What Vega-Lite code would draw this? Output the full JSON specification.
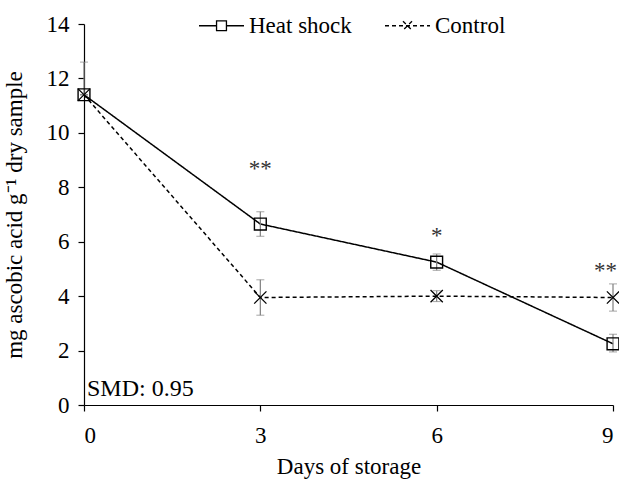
{
  "$schema": "https://vega.github.io/schema/vega-lite/v6.json",
  "width": 529,
  "height": 381,
  "autosize": {"type": "none"},
  "padding": {"left": 84, "top": 24, "right": 6, "bottom": 77},
  "background": "white",
  "config": {
    "view": {"stroke": null},
    "font": "Liberation Serif",
    "mark": {"color": "black"},
    "line": {"color": "black"},
    "point": {"color": "black"},
    "axis": {
      "domainColor": "black",
      "tickColor": "black",
      "labelColor": "black",
      "titleColor": "black",
      "labelFont": "Liberation Serif",
      "titleFont": "Liberation Serif",
      "labelFontSize": 23,
      "titleFontSize": 23,
      "titleFontWeight": "normal",
      "grid": false,
      "tickSize": 6,
      "domainWidth": 1.2,
      "tickWidth": 1.2
    },
    "legend": {
      "labelFont": "Liberation Serif",
      "labelFontSize": 23,
      "labelColor": "black"
    }
  },
  "datasets": {
    "main": [
      {"series": "Heat shock", "day": 0, "value": 11.4, "lo": 11.4, "hi": 11.4},
      {"series": "Heat shock", "day": 3, "value": 6.65, "lo": 6.2, "hi": 7.1},
      {"series": "Heat shock", "day": 6, "value": 5.25, "lo": 4.95, "hi": 5.55},
      {"series": "Heat shock", "day": 9, "value": 2.25, "lo": 1.95, "hi": 2.6},
      {"series": "Control", "day": 0, "value": 11.4, "lo": 11.4, "hi": 12.6},
      {"series": "Control", "day": 3, "value": 3.95, "lo": 3.3, "hi": 4.6},
      {"series": "Control", "day": 6, "value": 4.0, "lo": 3.8, "hi": 4.2},
      {"series": "Control", "day": 9, "value": 3.95, "lo": 3.45, "hi": 4.45}
    ],
    "stars": [
      {"day": 3, "value": 8.4, "label": "**"},
      {"day": 6, "value": 5.95, "label": "*"},
      {"day": 9, "value": 4.65, "label": "**"}
    ],
    "note": [
      {"day": 0.05, "value": 0.6, "label": "SMD: 0.95"}
    ]
  },
  "layer": [
    {
      "data": {"name": "main"},
      "mark": {"type": "line", "color": "black", "strokeWidth": 1.5},
      "encoding": {
        "x": {
          "field": "day", "type": "quantitative",
          "scale": {"domain": [0, 9], "nice": false, "zero": false},
          "axis": {"values": [0, 3, 6, 9], "format": "d", "title": "Days of storage", "titlePadding": 8, "labelPadding": 13}
        },
        "y": {
          "field": "value", "type": "quantitative",
          "scale": {"domain": [0, 14], "nice": false},
          "title": "mg ascobic acid g⁻¹ dry sample",
          "axis": {"values": [0, 2, 4, 6, 8, 10, 12, 14], "format": "d", "titlePadding": 20, "labelPadding": 9}
        },
        "detail": {"field": "series"},
        "strokeDash": {
          "field": "series", "type": "nominal",
          "scale": {"domain": ["Heat shock", "Control"], "range": [[1, 0], [4, 3]]},
          "legend": {
            "title": null,
            "orient": "none",
            "direction": "horizontal",
            "legendX": 114,
            "legendY": -22,
            "symbolSize": 2025,
            "symbolOpacity": 1,
            "symbolStrokeColor": "black",
            "symbolFillColor": "transparent",
            "symbolStrokeWidth": 1.3,
            "labelOffset": 4,
            "columnPadding": 30,
            "padding": 0,
            "encode": {"symbols": {"update": {"stroke": {"value": "black"}, "fill": {"value": "transparent"}}}}
          }
        }
      }
    },
    {
      "data": {"name": "main"},
      "mark": {"type": "errorbar", "ticks": {"size": 8, "color": "#7f7f7f", "strokeWidth": 1.2}, "rule": {"color": "#7f7f7f", "strokeWidth": 1.2}},
      "encoding": {
        "x": {"field": "day", "type": "quantitative"},
        "y": {"field": "lo", "type": "quantitative", "title": "mg ascobic acid g⁻¹ dry sample"},
        "y2": {"field": "hi"}
      }
    },
    {
      "data": {"name": "main"},
      "transform": [{"filter": "datum.series == 'Control'"}],
      "mark": {"type": "point", "shape": "M-1,-1L1,1M1,-1L-1,1", "size": 150, "filled": false, "stroke": "black", "strokeWidth": 1.3, "opacity": 1},
      "encoding": {
        "x": {"field": "day", "type": "quantitative"},
        "y": {"field": "value", "type": "quantitative", "title": "mg ascobic acid g⁻¹ dry sample"}
      }
    },
    {
      "data": {"name": "main"},
      "transform": [{"filter": "datum.series == 'Heat shock'"}],
      "mark": {"type": "point", "shape": "square", "size": 140, "filled": false, "stroke": "black", "strokeWidth": 1.4, "opacity": 1},
      "encoding": {
        "x": {"field": "day", "type": "quantitative"},
        "y": {"field": "value", "type": "quantitative", "title": "mg ascobic acid g⁻¹ dry sample"}
      }
    },
    {
      "data": {"name": "stars"},
      "transform": [{"filter": "datum.day < 9"}],
      "mark": {"type": "text", "font": "Liberation Serif", "fontSize": 23, "color": "#333333", "baseline": "alphabetic", "align": "center"},
      "encoding": {
        "x": {"field": "day", "type": "quantitative"},
        "y": {"field": "value", "type": "quantitative", "title": "mg ascobic acid g⁻¹ dry sample"},
        "text": {"field": "label"}
      }
    },
    {
      "data": {"name": "stars"},
      "transform": [{"filter": "datum.day >= 9"}],
      "mark": {"type": "text", "font": "Liberation Serif", "fontSize": 23, "color": "#333333", "baseline": "alphabetic", "align": "right", "dx": 4},
      "encoding": {
        "x": {"field": "day", "type": "quantitative"},
        "y": {"field": "value", "type": "quantitative", "title": "mg ascobic acid g⁻¹ dry sample"},
        "text": {"field": "label"}
      }
    },
    {
      "data": {"name": "note"},
      "mark": {"type": "text", "font": "Liberation Serif", "fontSize": 24, "color": "black", "baseline": "middle", "align": "left"},
      "encoding": {
        "x": {"field": "day", "type": "quantitative"},
        "y": {"field": "value", "type": "quantitative", "title": "mg ascobic acid g⁻¹ dry sample"},
        "text": {"field": "label"}
      }
    },
    {
      "data": {"name": "main"},
      "mark": {"type": "point", "opacity": 0, "filled": false, "color": "black"},
      "encoding": {
        "x": {"field": "day", "type": "quantitative"},
        "y": {"field": "value", "type": "quantitative", "title": "mg ascobic acid g⁻¹ dry sample"},
        "shape": {
          "field": "series", "type": "nominal",
          "scale": {
            "domain": ["Heat shock", "Control"],
            "range": ["M-1,0H-0.22M0.22,0H1M-0.22,-0.22H0.22V0.22H-0.22Z", "M-1,0H1M-0.2,-0.2L0.2,0.2M0.2,-0.2L-0.2,0.2"]
          },
          "legend": {
            "title": null,
            "orient": "none",
            "direction": "horizontal",
            "legendX": 114,
            "legendY": -22,
            "symbolSize": 2025,
            "symbolOpacity": 1,
            "symbolStrokeColor": "black",
            "symbolFillColor": "transparent",
            "symbolStrokeWidth": 1.3,
            "labelOffset": 4,
            "columnPadding": 30,
            "padding": 0,
            "encode": {"symbols": {"update": {"stroke": {"value": "black"}, "fill": {"value": "transparent"}}}}
          }
        },
        "strokeDash": {
          "field": "series", "type": "nominal",
          "scale": {"domain": ["Heat shock", "Control"], "range": [[1, 0], [4, 3]]}
        }
      }
    }
  ]
}
